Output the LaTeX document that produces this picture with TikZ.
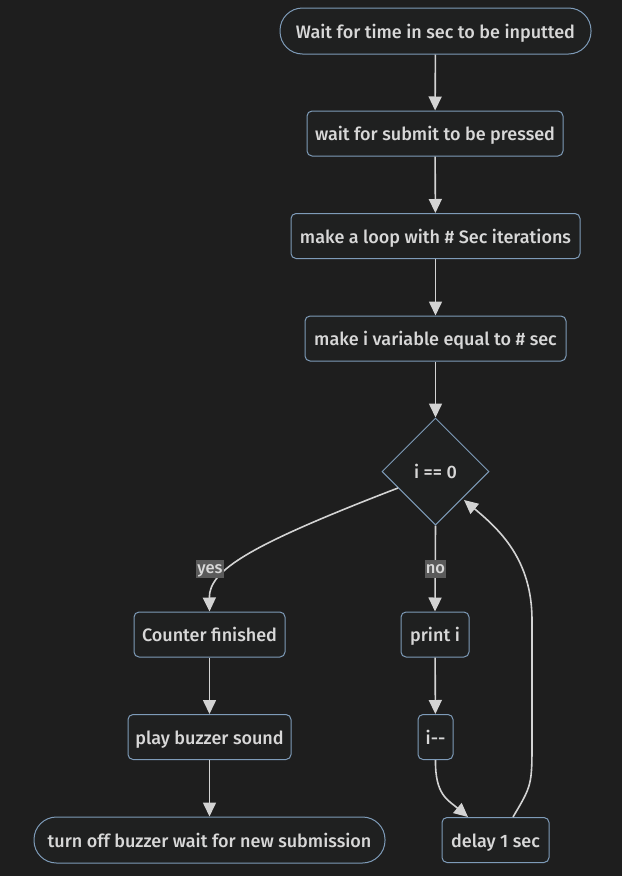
\documentclass[tikz,border=0pt]{standalone}
\usepackage{fontspec}
\setmainfont{Fira Sans}[UprightFont=* Medium]
\usetikzlibrary{shapes.geometric,arrows.meta}
\definecolor{bgc}{HTML}{1E1E1E}
\definecolor{nodefill}{HTML}{1F2020}
\definecolor{nodeline}{HTML}{7E9BB8}
\definecolor{txt}{HTML}{D8D8D8}
\definecolor{edgec}{HTML}{D3D3D3}
\definecolor{lblbg}{HTML}{5A5A5A}
\begin{document}
\begin{tikzpicture}[x=1pt,y=-1pt,
  every node/.style={font=\fontsize{18}{21}\selectfont, text=txt, text height=15pt, text depth=1pt},
  box/.style={draw=nodeline, fill=nodefill, line width=1pt, rounded corners=5pt, minimum height=45pt, inner xsep=0pt, anchor=center},
  stadium/.style={draw=nodeline, fill=nodefill, line width=1pt, rounded corners=22.5pt, minimum height=46pt, inner xsep=0pt},
  decision/.style={draw=nodeline, fill=nodefill, line width=1pt, diamond, minimum width=107pt, minimum height=107pt, inner sep=0pt, aspect=1},
  flow/.style={draw=edgec, line width=1.6pt, -{Triangle[width=13pt,length=14pt]}},
  lbl/.style={fill=lblbg, inner xsep=1pt, inner ysep=1.5pt, font=\fontsize{16.5}{19}\selectfont, text=txt, text height=12.5pt, text depth=3pt}
]
\fill[bgc] (0,0) rectangle (622,876);
\useasboundingbox (0,0) rectangle (622,876);

\node[stadium, minimum width=311pt] (start) at (435.5,31) {Wait for time in sec to be inputted};
\node[box, minimum width=256pt] (submit) at (435,133.5) {wait for submit to be pressed};
\node[box, minimum width=289pt] (loop) at (435.5,236) {make a loop with \# Sec iterations};
\node[box, minimum width=261pt] (ivar) at (435.5,338.5) {make i variable equal to \# sec};
\node[decision] (cond) at (435.5,471.5) {i == 0};
\node[box, minimum width=151pt] (fin) at (209.5,634.5) {Counter finished};
\node[box, minimum width=68pt] (print) at (435,634.5) {print i};
\node[box, minimum width=163pt] (buzz) at (209.5,737) {play buzzer sound};
\node[box, minimum width=35pt] (dec) at (435.5,737) {i-{}-};
\node[stadium, minimum width=351pt] (off) at (209.5,840) {turn off buzzer wait for new submission};
\node[box, minimum width=107pt] (delay) at (495.5,840) {delay 1 sec};

\coordinate (yesstart) at (398,488);
\coordinate (loopstart) at (513,817);
\coordinate (loopend) at (464,500);

\draw[flow] (start) -- (submit);
\draw[flow] (submit) -- (loop);
\draw[flow] (loop) -- (ivar);
\draw[flow] (ivar) -- (cond);
\draw[flow] (yesstart) .. controls (250,545) and (209,570) .. (fin.north);
\draw[flow] (cond.south) -- (print.north);
\draw[flow] (print) -- (dec);
\draw[flow] (buzz.north |- fin.south) -- (buzz);
\draw[flow] (buzz) -- (off);
\draw[flow] (dec.south) .. controls (435,795) and (448,800) .. (delay.north -| 468,0);
\draw[flow] (loopstart) .. controls (532,785) .. (532,740) -- (532,620) .. controls (532,560) and (500,530) .. (loopend);

\node[lbl] (yes) at (210,569) {yes};
\node[lbl] (no) at (435.5,569) {no};
\end{tikzpicture}
\end{document}
